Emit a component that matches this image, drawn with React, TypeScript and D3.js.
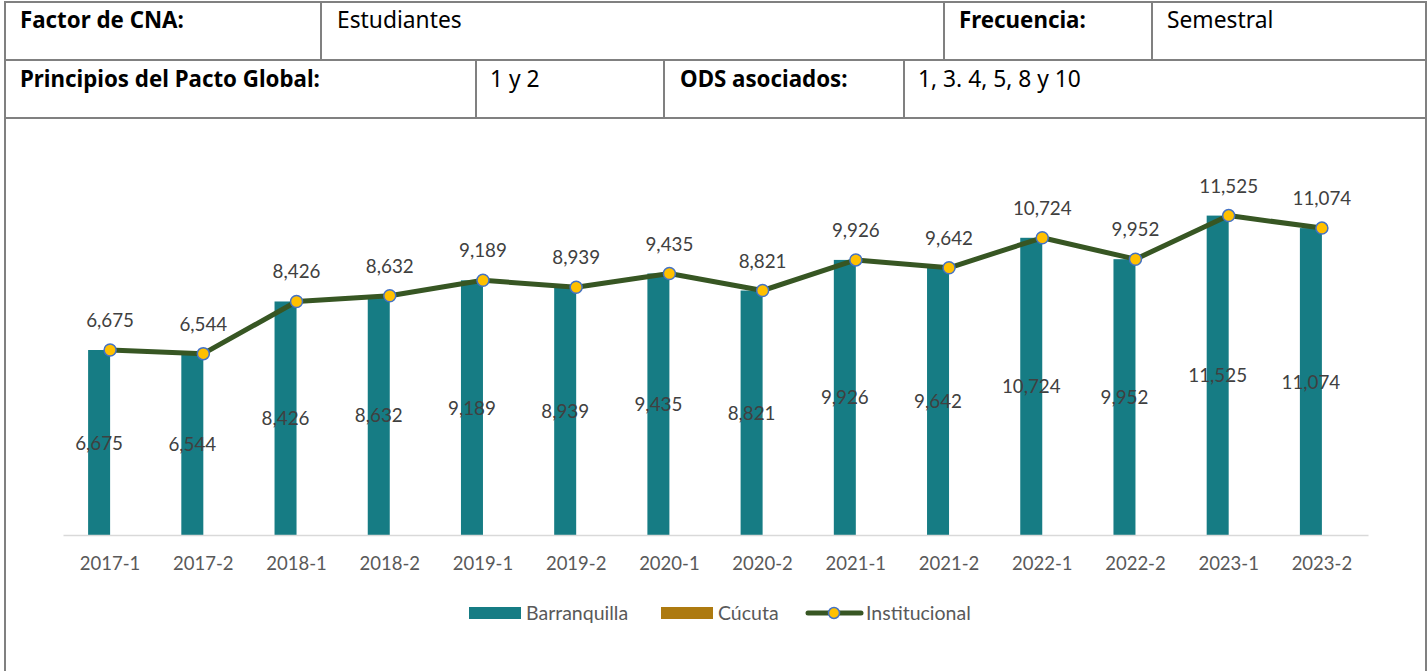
import React from "react";
import * as d3 from "d3";

const categories = ["2017-1","2017-2","2018-1","2018-2","2019-1","2019-2","2020-1","2020-2","2021-1","2021-2","2022-1","2022-2","2023-1","2023-2"];
const barranquilla = [6675,6544,8426,8632,9189,8939,9435,8821,9926,9642,10724,9952,11525,11074];
const cucuta = [0,0,0,0,0,0,0,0,0,0,0,0,0,0];
const institucional = [6675,6544,8426,8632,9189,8939,9435,8821,9926,9642,10724,9952,11525,11074];
const seriesNames = ["Barranquilla","Cúcuta","Institucional"];

const W = 1428, H = 671;
const FONT = "Lato, 'Noto Sans', sans-serif";
const TFONT = "'Noto Sans', sans-serif";
const BORDER = "#808080";
const TEAL = "#167C84";
const GOLD = "#AD7A10";
const GREEN = "#375623";
const YELLOW = "#FFC000";
const BLUE = "#4472C4";

export default function App() {
  const x = d3.scaleBand<string>().domain(categories).range([63.5, 1368.5]).paddingInner(0).paddingOuter(0);
  const y = d3.scaleLinear().domain([0, 14000]).range([535, 147]);
  const bw = x.bandwidth();
  const barW = 22;
  const inner = d3.scaleBand<string>().domain(["b","c"]).range([bw/2 - barW, bw/2 + barW]);
  const fmt = d3.format(",");
  const cx = (c: string) => (x(c) as number) + bw / 2;
  const line = d3.line<number>().x((_, i) => cx(categories[i])).y(d => y(d));

  const tableText = (t: string, tx: number, ty: number, bold = false) => (
    <text x={tx} y={ty} fontFamily={TFONT} fontSize={bold ? 22.3 : 22.8} fontWeight={bold ? 700 : 400} fill="#000">{t}</text>
  );

  return (
    <svg width={W} height={H} style={{ position: "absolute", left: 0, top: 0, background: "#fff" }}>
      <rect x={0} y={0} width={W} height={H} fill="#fff" />
      {/* table borders */}
      <g stroke={BORDER} strokeWidth={2} fill="none">
        <line x1={5} y1={2} x2={1426} y2={2} />
        <line x1={5} y1={1} x2={5} y2={671} />
        <line x1={1426} y1={1} x2={1426} y2={671} />
        <line x1={5} y1={60} x2={1426} y2={60} />
        <line x1={5} y1={118} x2={1426} y2={118} />
        <line x1={321} y1={2} x2={321} y2={60} />
        <line x1={944} y1={2} x2={944} y2={60} />
        <line x1={1152} y1={2} x2={1152} y2={60} />
        <line x1={476} y1={60} x2={476} y2={118} />
        <line x1={664} y1={60} x2={664} y2={118} />
        <line x1={904} y1={60} x2={904} y2={118} />
      </g>
      {tableText("Factor de CNA:", 20, 28, true)}
      {tableText("Estudiantes", 337, 28)}
      {tableText("Frecuencia:", 959, 28, true)}
      {tableText("Semestral", 1167, 28)}
      {tableText("Principios del Pacto Global:", 20, 87, true)}
      {tableText("1 y 2", 490, 87)}
      {tableText("ODS asociados:", 680, 87, true)}
      {tableText("1, 3. 4, 5, 8 y 10", 918, 87)}

      {/* bars */}
      {categories.map((c, i) => (
        <g key={c}>
          <rect x={(x(c) as number) + (inner("b") as number)} y={y(barranquilla[i])} width={barW} height={y(0) - y(barranquilla[i])} fill={TEAL} />
          {cucuta[i] > 0 && (
            <rect x={(x(c) as number) + (inner("c") as number)} y={y(cucuta[i])} width={barW} height={y(0) - y(cucuta[i])} fill={GOLD} />
          )}
        </g>
      ))}
      {/* axis */}
      <line x1={63.5} x2={1368.5} y1={535.5} y2={535.5} stroke="#D9D9D9" strokeWidth={1.5} />
      {categories.map(c => (
        <text key={c} x={cx(c)} y={570} textAnchor="middle" fontFamily={FONT} fontSize={18.5} fill="#595959">{c}</text>
      ))}
      {/* bar labels */}
      {categories.map((c, i) => (
        <text key={c} x={(x(c) as number) + (inner("b") as number) + barW / 2} y={(y(barranquilla[i]) + y(0)) / 2 + 7} textAnchor="middle" fontFamily={FONT} fontSize={18.8} fill="#404040">{fmt(barranquilla[i])}</text>
      ))}
      {/* line */}
      <path d={line(institucional) as string} fill="none" stroke={GREEN} strokeWidth={5} strokeLinejoin="round" />
      {categories.map((c, i) => (
        <circle key={c} cx={cx(c)} cy={y(institucional[i])} r={6} fill={YELLOW} stroke={BLUE} strokeWidth={1.5} />
      ))}
      {categories.map((c, i) => (
        <text key={c} x={cx(c)} y={y(institucional[i]) - 23} textAnchor="middle" fontFamily={FONT} fontSize={18.8} fill="#404040">{fmt(institucional[i])}</text>
      ))}
      {/* legend */}
      <rect x={469} y={607} width={52} height={12} fill={TEAL} />
      <text x={526} y={620} fontFamily={FONT} fontSize={19.5} fill="#595959">{seriesNames[0]}</text>
      <rect x={661} y={607} width={52} height={12} fill={GOLD} />
      <text x={718} y={620} fontFamily={FONT} fontSize={19.5} fill="#595959">{seriesNames[1]}</text>
      <line x1={808} x2={861} y1={613} y2={613} stroke={GREEN} strokeWidth={5} strokeLinecap="round" />
      <circle cx={834} cy={613} r={5.5} fill={YELLOW} stroke={BLUE} strokeWidth={1.5} />
      <text x={866} y={620} fontFamily={FONT} fontSize={19.5} fill="#595959">{seriesNames[2]}</text>
    </svg>
  );
}
